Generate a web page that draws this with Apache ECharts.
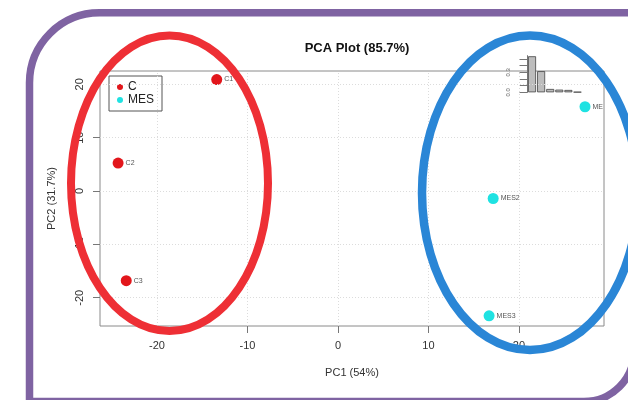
<!DOCTYPE html>
<html>
<head>
<meta charset="utf-8">
<script src="https://cdn.jsdelivr.net/npm/echarts@6/dist/echarts.min.js"></script>
<style>
  html, body { margin: 0; padding: 0; background: #ffffff; }
  #chart { width: 628px; height: 400px; }
</style>
</head>
<body>
<div id="chart"></div>
<script>
// Sample scores on the first two principal components
const cNames = ['C1', 'C2', 'C3'];
const cPC1 = [-13.4, -24.3, -23.4];
const cPC2 = [20.9, 5.25, -16.8];

const mesNames = ['MES1', 'MES2', 'MES3'];
const mesPC1 = [27.3, 17.15, 16.7];
const mesPC2 = [15.8, -1.4, -23.4];

// Proportion of variance per component (scree inset)
const screeComponents = ['PC1', 'PC2', 'PC3', 'PC4', 'PC5', 'PC6'];
const screeValues = [0.54, 0.317, 0.05, 0.04, 0.035, 0.005];
const screeTicks = [0, 0.1, 0.2, 0.3, 0.4, 0.5];
const screeTickLabels = [0, 0.3];

// Axis tick positions
const mainTicks = [-20, -10, 0, 10, 20];

const FONT = '"Liberation Sans", Arial, sans-serif';
const RED = '#e2161b';
const CYAN = '#1fe2e2';

const toPoints = (names, xs, ys) => names.map((n, i) => ({ name: n, value: [xs[i], ys[i]] }));

const chart = echarts.init(document.getElementById('chart'), null, { renderer: 'canvas' });

const gridLines = mainTicks.map(v => ({ xAxis: v })).concat(mainTicks.map(v => ({ yAxis: v })));

const pointLabel = { show: true, position: 'right', distance: 2, formatter: '{b}', fontSize: 7, color: '#555', fontFamily: FONT };

const option = {
  animation: false,
  backgroundColor: '#ffffff',
  textStyle: { fontFamily: FONT },
  title: {
    text: 'PCA Plot (85.7%)',
    left: 352,
    top: 37,
    textAlign: 'center',
    textStyle: { fontFamily: FONT, fontSize: 13, fontWeight: 'bold', color: '#111' }
  },
  legend: {
    left: 109,
    top: 76,
    orient: 'vertical',
    icon: 'circle',
    itemWidth: 6,
    itemHeight: 6,
    itemGap: 1,
    padding: [5, 8, 5, 8],
    borderColor: '#555',
    borderWidth: 1,
    borderRadius: 0,
    data: ['C', 'MES'],
    textStyle: { fontFamily: FONT, fontSize: 12, color: '#222' }
  },
  grid: [
    { left: 100, top: 71, width: 504, height: 255, show: true, borderColor: '#8a8a8a', borderWidth: 1, backgroundColor: 'transparent' },
    { left: 527.5, top: 55.6, width: 54.5, height: 36.7, show: false }
  ],
  xAxis: [
    {
      gridIndex: 0,
      type: 'value',
      min: -26.3,
      max: 29.4,
      name: 'PC1 (54%)',
      nameLocation: 'middle',
      nameGap: 41,
      nameTextStyle: { fontFamily: FONT, fontSize: 11, color: '#333' },
      axisLine: { show: false, onZero: false },
      axisTick: { show: true, customValues: mainTicks, length: 7, lineStyle: { color: '#777' } },
      axisLabel: { customValues: mainTicks, margin: 14, fontSize: 11, color: '#333', fontFamily: FONT },
      splitLine: { show: false }
    },
    {
      gridIndex: 1,
      type: 'category',
      data: screeComponents,
      show: false
    }
  ],
  yAxis: [
    {
      gridIndex: 0,
      type: 'value',
      min: -25.3,
      max: 22.5,
      name: 'PC2 (31.7%)',
      nameLocation: 'middle',
      nameGap: 43,
      nameRotate: 90,
      nameTextStyle: { fontFamily: FONT, fontSize: 11, color: '#333' },
      axisLine: { show: false, onZero: false },
      axisTick: { show: true, customValues: mainTicks, length: 7, lineStyle: { color: '#777' } },
      axisLabel: { customValues: mainTicks, rotate: 90, margin: 15, fontSize: 11, color: '#333', fontFamily: FONT },
      splitLine: { show: false }
    },
    {
      gridIndex: 1,
      type: 'value',
      min: 0,
      max: 0.55,
      axisLine: { show: true, onZero: false, lineStyle: { color: '#777', width: 1 } },
      axisTick: { show: true, customValues: screeTicks, length: 8, lineStyle: { color: '#777' } },
      axisLabel: {
        customValues: screeTickLabels,
        rotate: 90,
        margin: 16,
        fontSize: 6,
        color: '#666',
        fontFamily: FONT,
        formatter: v => Number(v).toFixed(1)
      },
      splitLine: { show: false }
    }
  ],
  series: [
    {
      name: 'C',
      type: 'scatter',
      xAxisIndex: 0,
      yAxisIndex: 0,
      symbolSize: 11,
      itemStyle: { color: RED, opacity: 1 },
      label: pointLabel,
      data: toPoints(cNames, cPC1, cPC2),
      markLine: {
        silent: true,
        symbol: 'none',
        label: { show: false },
        animation: false,
        lineStyle: { color: '#dcdcdc', type: [1, 2], width: 1 },
        data: gridLines
      },
      z: 3
    },
    {
      name: 'MES',
      type: 'scatter',
      xAxisIndex: 0,
      yAxisIndex: 0,
      symbolSize: 11,
      itemStyle: { color: CYAN, opacity: 1 },
      label: pointLabel,
      // the first label runs past the plot edge and is cut off there
      data: toPoints(mesNames, mesPC1, mesPC2).map(d => d.name === 'MES1'
        ? Object.assign(d, { label: { width: 14, overflow: 'truncate', ellipsis: '' } })
        : d),
      z: 3
    },
    {
      name: 'scree',
      type: 'bar',
      xAxisIndex: 1,
      yAxisIndex: 1,
      barCategoryGap: '12%',
      itemStyle: { color: '#bdbdbd', borderColor: '#444', borderWidth: 0.8 },
      data: screeValues,
      z: 4
    }
  ],
  graphic: [
    {
      type: 'ellipse',
      z: 100,
      silent: true,
      shape: { cx: 169.5, cy: 183.3, rx: 98.5, ry: 147.8 },
      style: { fill: null, stroke: '#ee2f35', lineWidth: 8 }
    },
    {
      type: 'ellipse',
      z: 100,
      silent: true,
      shape: { cx: 530, cy: 192.8, rx: 108, ry: 157.3 },
      style: { fill: null, stroke: '#2a86d6', lineWidth: 8.5 }
    },
    {
      type: 'rect',
      z: 110,
      silent: true,
      shape: { x: 29.5, y: 12.8, width: 604.5, height: 388.7, r: [70, 0, 50, 0] },
      style: { fill: null, stroke: '#7f63a2', lineWidth: 7.5 }
    }
  ]
};

chart.setOption(option);
</script>
</body>
</html>
